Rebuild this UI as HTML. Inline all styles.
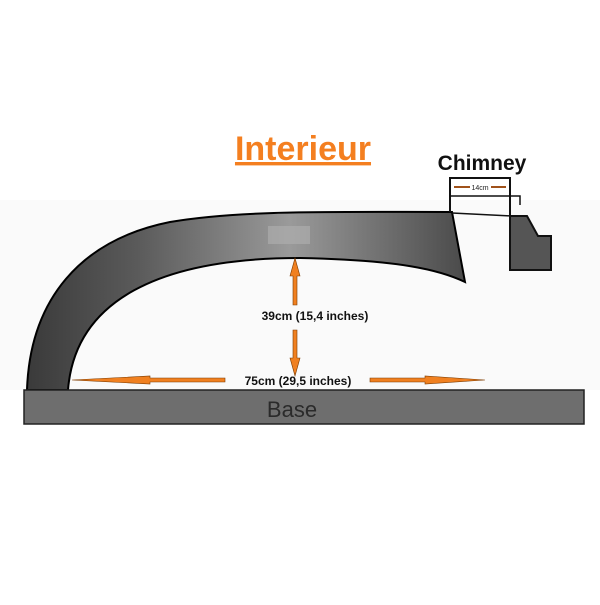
<!DOCTYPE html>
<html><head><style>
body{margin:0;background:#fff}
</style></head><body>
<svg width="600" height="600" viewBox="0 0 600 600" xmlns="http://www.w3.org/2000/svg">
<defs>
<linearGradient id="g" x1="0" y1="0" x2="1" y2="0">
<stop offset="0" stop-color="#3a3a3a"/>
<stop offset="0.25" stop-color="#5a5a5a"/>
<stop offset="0.6" stop-color="#9a9a9a"/>
<stop offset="1" stop-color="#4a4a4a"/>
</linearGradient>
</defs>
<rect x="0" y="200" width="600" height="190" fill="#fafafa"/>
<text x="303" y="160" text-anchor="middle" font-family="Liberation Sans, sans-serif" font-weight="bold" font-size="34" fill="#f47f20" text-decoration="underline">Interieur</text>
<text x="482" y="170" text-anchor="middle" font-family="Liberation Sans, sans-serif" font-weight="bold" font-size="21" fill="#111">Chimney</text>
<!-- dome -->
<path d="M27,390 C30,300 80,240 170,222 C240,210 330,212 452,212 L465,282 C440,270 400,260 300,258 C160,258 75,300 68,390 Z" fill="url(#g)" stroke="#000" stroke-width="2"/>
<rect x="268" y="226" width="42" height="18" fill="#b0b0b0" opacity="0.6"/>
<!-- chimney -->
<path d="M450,212 L450,178 L510,178 L510,216" fill="none" stroke="#111" stroke-width="2"/>
<path d="M450,196 L520,196 L520,205" fill="none" stroke="#111" stroke-width="1.5"/>
<line x1="452" y1="213" x2="512" y2="216" stroke="#111" stroke-width="1.5"/>
<text x="480" y="190" text-anchor="middle" font-family="Liberation Sans, sans-serif" font-size="7" fill="#222">14cm</text>
<path d="M454,187 L470,187 M506,187 L491,187" stroke="#a0521a" stroke-width="2"/>
<path d="M510,216 L527,216 L538,236 L551,236 L551,270 L510,270 Z" fill="#555" stroke="#111" stroke-width="2"/>
<!-- base -->
<rect x="24" y="390" width="560" height="34" fill="#6e6e6e" stroke="#222" stroke-width="1.5"/>
<text x="292" y="417" text-anchor="middle" font-family="Liberation Sans, sans-serif" font-size="22" fill="#2a2a2a">Base</text>
<!-- arrows -->
<g fill="#f08020" stroke="#7a3a00" stroke-width="0.6">
<path d="M293,305 L293,276 L290,276 L295,258 L300,276 L297,276 L297,305 Z"/>
<path d="M293,330 L293,358 L290,358 L295,376 L300,358 L297,358 L297,330 Z"/>
<path d="M225,378 L150,378 L150,376 L72,380 L150,384 L150,382 L225,382 Z"/>
<path d="M370,378 L425,378 L425,376 L485,380 L425,384 L425,382 L370,382 Z"/>
</g>
<text x="315" y="320" text-anchor="middle" font-family="Liberation Sans, sans-serif" font-weight="bold" font-size="12" fill="#111">39cm (15,4 inches)</text>
<text x="298" y="385" text-anchor="middle" font-family="Liberation Sans, sans-serif" font-weight="bold" font-size="12" fill="#111">75cm (29,5 inches)</text>
</svg>
</body></html>
